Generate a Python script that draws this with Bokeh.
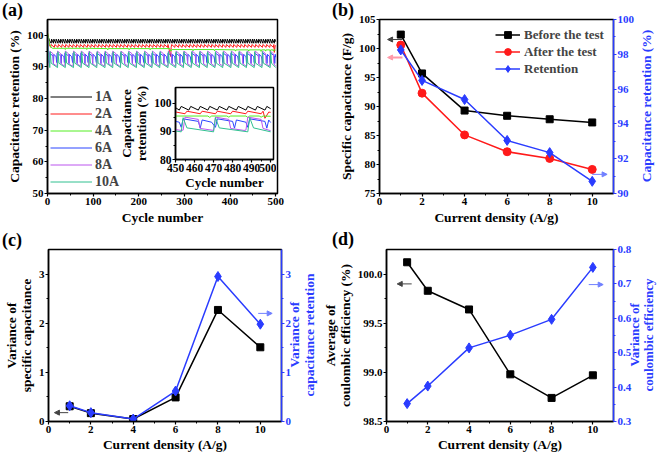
import math
from bokeh.plotting import figure
from bokeh.models import (Range1d, LinearAxis, FixedTicker, Arrow, Div,
                          NormalHead, NumeralTickFormatter)
from bokeh.layouts import column, row
from bokeh.embed import file_html
from bokeh.resources import INLINE

# ======================= DATA =======================
# ---- (a) cycling stability ----
a_xticks = [0, 100, 200, 300, 400, 500]
a_xminor = [50, 150, 250, 350, 450]
a_yticks = [50, 60, 70, 80, 90, 100]
a_yminor = [55, 65, 75, 85, 95]
in_xticks = [450, 460, 470, 480, 490, 500]
in_xminor = [455, 465, 475, 485, 495]
in_yticks = [80, 90, 100]
in_yminor = [85, 95]
a_names = ["1A", "2A", "4A", "6A", "8A", "10A"]

# 1A: small zig-zag ~97.5-98.8
a1_start_x = [0, 2, 5]
a1_start_y = [100.3, 99.3, 98.2]
a1_resets = [8, 13, 18, 23, 28, 33, 38, 43, 48, 53, 58, 63, 68, 73, 78, 83, 88, 93, 98,
             103, 108, 113, 118, 123, 128, 133, 138, 143, 148, 153, 158, 163, 168, 173,
             178, 183, 188, 193, 198, 203, 208, 213, 218, 223, 228, 233, 238, 243, 248,
             253, 258, 263, 268, 273, 278, 283, 288, 293, 298, 303, 308, 313, 318, 323,
             328, 333, 338, 343, 348, 353, 358, 363, 368, 373, 378, 383, 388, 393, 398,
             403, 408, 413, 418, 423, 428, 433, 438, 443, 448, 452, 457, 462, 467, 472,
             477, 482, 487, 492, 497]
a1_dx = [0, 1]
a1_ty = [97.5, 98.8]
a1_end_x = [500]
a1_end_y = [98.0]

# 2A
a2_start_x = [0, 2, 4]
a2_start_y = [100.8, 99.0, 97.0]
a2_resets = [7, 15, 23, 31, 39, 47, 55, 63, 71, 79, 87, 95, 103, 111, 119, 127, 135, 143,
             151, 159, 167, 175, 183, 191, 199, 207, 215, 223, 231, 239, 247, 255, 263,
             271, 279, 287, 295, 303, 311, 319, 327, 335, 343, 351, 359, 367, 375, 383,
             391, 399, 407, 415, 423, 431, 439, 447, 455, 463, 471, 479, 487, 495]
a2_dx = [0, 1]
a2_ty = [96.2, 97.1]
a2_end_x = [270, 497, 499, 500]
a2_end_y = [93.3, 94.6, 96.8, 96.7]

# 4A: nearly flat
a4_x = [0, 2, 4, 7, 11, 38, 39, 40, 85, 86, 87, 131, 132, 133, 178, 179, 180, 224, 225,
        226, 268, 270, 273, 318, 319, 320, 365, 366, 367, 411, 412, 413, 440, 441, 442,
        467, 468, 469, 477, 478, 479, 487, 488, 489, 494, 495, 496, 500]
a4_y = [100.8, 99.6, 97.5, 96.3, 95.9, 95.9, 95.5, 95.9, 95.9, 95.5, 95.9, 95.8, 95.4,
        95.8, 95.8, 95.4, 95.8, 95.8, 95.4, 95.8, 95.8, 95.0, 95.5, 95.5, 95.1, 95.5,
        95.5, 95.1, 95.5, 95.4, 95.0, 95.4, 95.4, 95.0, 95.4, 95.4, 94.9, 95.4, 95.4,
        95.0, 95.4, 95.4, 94.9, 95.4, 95.4, 95.0, 95.4, 95.3]

# 6A
a6_start_x = [0, 1, 3]
a6_start_y = [100.2, 97.0, 92.0]
a6_resets = [3, 20, 37, 55, 72, 89, 107, 124, 141, 159, 176, 193, 211, 228, 245, 263,
             280, 297, 315, 332, 349, 367, 384, 401, 419, 436, 453, 471, 488]
a6_dx = [0, 1, 9, 10, 11, 16]
a6_ty = [91.4, 94.4, 93.5, 91.1, 94.0, 93.2]
a6_end_x = [500]
a6_end_y = [93.1]

# 8A
a8_start_x = [0, 2]
a8_start_y = [100.5, 94.5]
a8_resets = [4, 21, 38, 56, 73, 90, 108, 125, 142, 160, 177, 194, 212, 229, 246, 264,
             281, 298, 316, 333, 350, 368, 385, 402, 419, 437, 454, 470, 487]
a8_dx = [0, 1, 8, 9, 16]
a8_ty = [90.4, 95.0, 94.2, 91.0, 90.3]
a8_end_x = [500]
a8_end_y = [90.2]

# 10A
a10_start_x = [0, 2]
a10_start_y = [100.0, 93.5]
a10_resets = [5, 22, 39, 57, 74, 91, 108, 126, 143, 160, 177, 195, 212, 229, 246, 264,
              281, 298, 315, 333, 350, 367, 384, 402, 419, 436, 453, 470, 488]
a10_dx = [0, 1, 3]
a10_ty = [89.8, 94.8, 91.2]
a10_end_x = [500]
a10_end_y = [89.8]

# ---- (b)-(d) ----
cd = [1, 2, 4, 6, 8, 10]
cd_ticks = [0, 2, 4, 6, 8, 10]
cd_minor = [1, 3, 5, 7, 9]

b_before = [102.4, 95.7, 89.3, 88.4, 87.8, 87.25]
b_after = [100.6, 92.3, 85.1, 82.2, 81.05, 79.15]
b_ret = [98.25, 96.5, 95.4, 93.05, 92.35, 90.7]
b_lticks = [75, 80, 85, 90, 95, 100, 105]
b_lminor = [77.5, 82.5, 87.5, 92.5, 97.5, 102.5]
b_rticks = [90, 92, 94, 96, 98, 100]
b_rminor = [91, 93, 95, 97, 99]

c_var_cap = [0.31, 0.17, 0.05, 0.49, 2.27, 1.51]
c_var_ret = [0.32, 0.18, 0.05, 0.62, 2.95, 1.98]
c_ticks = [0, 1, 2, 3]
c_minor = [0.5, 1.5, 2.5]

d_avg_ce = [100.12, 99.83, 99.64, 98.98, 98.74, 98.97]
d_var_ce = [0.352, 0.403, 0.514, 0.551, 0.597, 0.748]
d_lticks = [98.5, 99.0, 99.5, 100.0]
d_lminor = [98.75, 99.25, 99.75]
d_rticks = [0.3, 0.4, 0.5, 0.6, 0.7, 0.8]
d_rminor = [0.35, 0.45, 0.55, 0.65, 0.75]

# ======================= STYLE =======================
FONT = "Liberation Serif"
BLUE = "#2a3cff"
A_COLORS = ["#000000", "#ff1a1a", "#55ee22", "#2a45ff", "#bb55ee", "#30c090"]


def sawtooth(start_x, start_y, resets, dxs, tys, end_x, end_y, last=500):
    pts = list(zip(start_x, start_y))
    for r in resets:
        for dx, ty in zip(dxs, tys):
            if r + dx <= last:
                pts.append((r + dx, ty))
    pts += list(zip(end_x, end_y))
    pts.sort(key=lambda t: t[0])
    return [p[0] for p in pts], [p[1] for p in pts]


def style_axis(ax, color="black", label_size="13.5px", tick_size="11px"):
    ax.axis_line_color = color
    ax.axis_line_width = 1.5
    ax.major_tick_line_color = color
    ax.minor_tick_line_color = color
    ax.major_tick_line_width = 1.2
    ax.minor_tick_line_width = 1.0
    ax.major_tick_in = 0
    ax.major_tick_out = 3
    ax.minor_tick_in = 0
    ax.minor_tick_out = 2
    ax.major_label_text_font = FONT
    ax.major_label_text_font_style = "bold"
    ax.major_label_text_font_size = tick_size
    ax.major_label_text_color = color
    ax.major_label_standoff = 1
    ax.axis_label_text_font = FONT
    ax.axis_label_text_font_style = "bold"
    ax.axis_label_text_font_size = label_size
    ax.axis_label_text_color = color
    ax.axis_label_standoff = 2
    ax.axis_label_text_line_height = 1.0


def make_fig(w, h, xr, yr, mb, **kw):
    p = figure(width=w, height=h, x_range=xr, y_range=yr, output_backend="svg",
               toolbar_location=None, min_border_left=mb[0], min_border_right=mb[1],
               min_border_top=mb[2], min_border_bottom=mb[3], **kw)
    p.grid.visible = False
    p.outline_line_color = "black"
    p.outline_line_width = 1.5
    p.background_fill_color = "white"
    p.border_fill_color = "white"
    return p


def abs_div(html, left, top, extra):
    st = {"position": "absolute", "left": f"{left}px", "top": f"{top}px",
          "z-index": "6", "font-family": FONT, "font-weight": "bold",
          "white-space": "nowrap", "line-height": "1.0"}
    st.update(extra)
    return Div(text=html, margin=0, styles=st)


def panel_div(text, left, top):
    return abs_div(text, left, top, {"font-size": "18px", "color": "black"})


def right_div(html, cx, cy, size="13.5px"):
    return abs_div(html, cx, cy, {
        "font-size": size, "color": BLUE, "text-align": "center",
        "line-height": "1.1", "writing-mode": "vertical-rl",
        "transform": "translate(-50%, -50%) rotate(180deg)"})


def add_arrow(p, x0, x1, y, color, rng="default", width=1.0):
    p.add_layout(Arrow(x_start=x0, y_start=y, x_end=x1, y_end=y, line_color=color,
                       line_width=width, y_range_name=rng,
                       end=NormalHead(size=5, fill_color=color, line_color=color)))


def style_legend(p, loc, glyph_w, size):
    lg = p.legend[0]
    lg.location = loc
    lg.label_text_font = FONT
    lg.label_text_font_style = "bold"
    lg.label_text_font_size = size
    lg.glyph_width = glyph_w
    lg.glyph_height = 17
    lg.label_height = 17
    lg.spacing = 0
    lg.padding = 0
    lg.margin = 0
    lg.label_standoff = 3
    lg.border_line_color = None
    lg.background_fill_alpha = 0


# ======================= (a) =======================
series = [
    sawtooth(a1_start_x, a1_start_y, a1_resets, a1_dx, a1_ty, a1_end_x, a1_end_y),
    sawtooth(a2_start_x, a2_start_y, a2_resets, a2_dx, a2_ty, a2_end_x, a2_end_y),
    (a4_x, a4_y),
    sawtooth(a6_start_x, a6_start_y, a6_resets, a6_dx, a6_ty, a6_end_x, a6_end_y),
    sawtooth(a8_start_x, a8_start_y, a8_resets, a8_dx, a8_ty, a8_end_x, a8_end_y),
    sawtooth(a10_start_x, a10_start_y, a10_resets, a10_dx, a10_ty, a10_end_x, a10_end_y),
]

TOP_H, BOT_H = 228, 227
pa = make_fig(330, TOP_H, Range1d(0, 504), Range1d(50, 105), (47, 53, 19, 35))
for (xs, ys), name, col in zip(series, a_names, A_COLORS):
    pa.line(xs, ys, line_color=col, line_width=1, legend_label=name)
pa.xaxis.axis_label = "Cycle number"
pa.yaxis.axis_label = "Capacitance retention (%)"
pa.xaxis.ticker = FixedTicker(ticks=a_xticks, minor_ticks=a_xminor)
pa.yaxis.ticker = FixedTicker(ticks=a_yticks, minor_ticks=a_yminor)
for ax in pa.xaxis + pa.yaxis:
    style_axis(ax)
style_legend(pa, (3, 3), 42, "14px")

# inset
inset = make_fig(160, 107, Range1d(450, 501.5), Range1d(80, 105.5), (54, 3, 2, 32),
                 styles={"position": "absolute", "left": "116px", "top": "85px",
                         "z-index": "5"})
inset.border_fill_alpha = 0
for (xs, ys), col in zip(series, A_COLORS):
    inset.line(xs, ys, line_color=col, line_width=1)
inset.xaxis.axis_label = "Cycle number"
inset.yaxis.axis_label = "Capacitance\nretention (%)"
inset.xaxis.ticker = FixedTicker(ticks=in_xticks, minor_ticks=in_xminor)
inset.yaxis.ticker = FixedTicker(ticks=in_yticks, minor_ticks=in_yminor)
for ax in inset.xaxis + inset.yaxis:
    style_axis(ax, label_size="13px", tick_size="11.5px")
inset.xaxis.axis_label_standoff = 0

# ======================= (b) =======================
pb = make_fig(327, TOP_H, Range1d(0, 11), Range1d(75, 105), (49, 44, 19, 35))
pb.extra_y_ranges = {"r": Range1d(90, 100)}
pb.add_layout(LinearAxis(y_range_name="r"), "right")
pb.line(cd, b_before, line_color="black", line_width=1.5, legend_label="Before the test")
pb.scatter(cd, b_before, marker="square", size=7, color="black", legend_label="Before the test")
pb.line(cd, b_after, line_color="#ff1a1a", line_width=1.5, legend_label="After the test")
pb.scatter(cd, b_after, marker="circle", size=8, color="#ff1a1a", legend_label="After the test")
pb.line(cd, b_ret, line_color=BLUE, line_width=1.5, y_range_name="r", legend_label="Retention")
pb.scatter(cd, b_ret, marker="diamond", size=10, color=BLUE, y_range_name="r", legend_label="Retention")
pb.xaxis.axis_label = "Current density (A/g)"
pb.xaxis.ticker = FixedTicker(ticks=cd_ticks, minor_ticks=cd_minor)
pb.yaxis[0].axis_label = "Specific capacitance (F/g)"
pb.yaxis[0].ticker = FixedTicker(ticks=b_lticks, minor_ticks=b_lminor)
pb.yaxis[1].ticker = FixedTicker(ticks=b_rticks, minor_ticks=b_rminor)
for ax in pb.xaxis:
    style_axis(ax)
style_axis(pb.yaxis[0])
style_axis(pb.yaxis[1], color=BLUE)
style_legend(pb, (116, 116), 25, "13px")
pb.legend[0].label_standoff = 4
add_arrow(pb, 1.08, 0.38, 101.55, "#444444")
add_arrow(pb, 1.08, 0.38, 98.45, "#ff9aaa", width=2)
add_arrow(pb, 10.0, 10.7, 91.1, "#7080ff", rng="r")

# ======================= (c) =======================
pc = make_fig(319, BOT_H, Range1d(0, 11), Range1d(0, 3.5), (47, 38, 21, 34))
pc.extra_y_ranges = {"r": Range1d(0, 3.5)}
pc.add_layout(LinearAxis(y_range_name="r"), "right")
pc.line(cd, c_var_cap, line_color="black", line_width=1.5)
pc.scatter(cd, c_var_cap, marker="square", size=7, color="black")
pc.line(cd, c_var_ret, line_color=BLUE, line_width=1.5, y_range_name="r")
pc.scatter(cd, c_var_ret, marker="diamond", size=10, color=BLUE, y_range_name="r")
pc.xaxis.axis_label = "Current density (A/g)"
pc.xaxis.ticker = FixedTicker(ticks=cd_ticks, minor_ticks=cd_minor)
pc.yaxis[0].axis_label = "Variance of\nspecific capacitance"
pc.yaxis[0].ticker = FixedTicker(ticks=c_ticks, minor_ticks=c_minor)
pc.yaxis[1].ticker = FixedTicker(ticks=c_ticks, minor_ticks=c_minor)
for ax in pc.xaxis:
    style_axis(ax)
    ax.axis_label_standoff = 1
style_axis(pc.yaxis[0])
style_axis(pc.yaxis[1], color=BLUE)
add_arrow(pc, 0.93, 0.28, 0.18, "#444444")
add_arrow(pc, 9.9, 10.56, 2.2, "#7080ff", rng="r")

# ======================= (d) =======================
pd_ = make_fig(338, BOT_H, Range1d(0, 11), Range1d(98.5, 100.25), (60, 44, 21, 34))
pd_.extra_y_ranges = {"r": Range1d(0.3, 0.8)}
pd_.add_layout(LinearAxis(y_range_name="r"), "right")
pd_.line(cd, d_avg_ce, line_color="black", line_width=1.5)
pd_.scatter(cd, d_avg_ce, marker="square", size=7, color="black")
pd_.line(cd, d_var_ce, line_color=BLUE, line_width=1.5, y_range_name="r")
pd_.scatter(cd, d_var_ce, marker="diamond", size=10, color=BLUE, y_range_name="r")
pd_.xaxis.axis_label = "Current density (A/g)"
pd_.xaxis.ticker = FixedTicker(ticks=cd_ticks, minor_ticks=cd_minor)
pd_.yaxis[0].axis_label = "Average of\ncoulombic efficiency (%)"
pd_.yaxis[0].ticker = FixedTicker(ticks=d_lticks, minor_ticks=d_lminor)
pd_.yaxis[0].formatter = NumeralTickFormatter(format="0.0")
pd_.yaxis[1].ticker = FixedTicker(ticks=d_rticks, minor_ticks=d_rminor)
pd_.yaxis[1].formatter = NumeralTickFormatter(format="0.0")
for ax in pd_.xaxis:
    style_axis(ax)
    ax.axis_label_standoff = 1
style_axis(pd_.yaxis[0])
style_axis(pd_.yaxis[1], color=BLUE)
add_arrow(pd_, 1.22, 0.52, 99.9, "#444444")
add_arrow(pd_, 9.8, 10.5, 0.698, "#7080ff", rng="r")

# ---- texts outside the plot frames (positioned over the layout) ----
extras = [
    panel_div("(a)", 2, 1),
    panel_div("(b)", 332, 1),
    panel_div("(c)", 2, 231),
    panel_div("(d)", 332, 230),
    right_div("Capacitance retention (%)", 647, 106),
    right_div("Variance of<br>capacitance retention", 303, 335),
    right_div("Variance of<br>coulombic efficiency", 642, 335, size="13px"),
]

layout = column(row(pa, pb), row(pc, pd_), inset, *extras)
open("out.html", "w").write(file_html(layout, INLINE))
